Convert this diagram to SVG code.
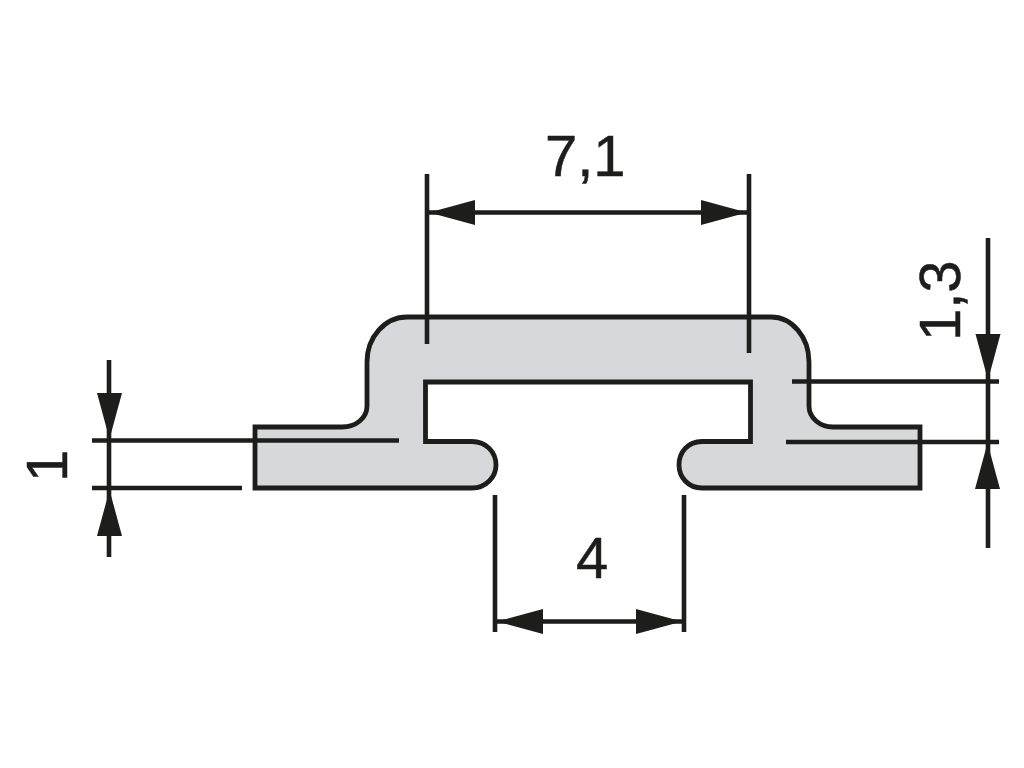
<svg xmlns="http://www.w3.org/2000/svg" xmlns:xlink="http://www.w3.org/1999/xlink" width="1024" height="768" viewBox="0 0 1024 768">
<style>
.profile{fill:#d7d8da;stroke:#1d1d1b;stroke-width:4.800;stroke-linejoin:miter}
.dim{stroke:#1d1d1b;stroke-width:4.600;fill:none}
.head{fill:#1d1d1b;stroke:none}
.label{font-family:"Liberation Sans",Arial,sans-serif;font-size:58px;fill:#1d1d1b;stroke:#1d1d1b;stroke-width:0.500}
</style>
<defs><polygon id="head" class="head" points="0,0 -46,-12.500 -46,12.500"/></defs>
<rect width="1024" height="768" fill="#ffffff"/>
<g id="profile">
<path class="profile" d="M255 427H342C356 427 367 418 367 406V362C367 337 385 317 407 317H771C792 317 809 337 809 362V406C809 418 820 427 833 427H920V488H702C688 488 679 477 679 465C679 452 688 441.500 702 441.500H750.500V382H425.500V441.500H472C486 441.500 496 452 496 465C496 477 486 488 472 488H255Z"/>
</g>
<g id="connectors">
<path class="dim" d="M427 174V344M749 174V353M427 212.500H749"/>
<path class="dim" d="M495 495V632M684 495V632M495 621.500H684"/>
<path class="dim" d="M92 440.500H399M92 488H242M109 360V557"/>
<path class="dim" d="M792 381.500H999M786 442H999M988 238V548"/>
<use xlink:href="#head" href="#head" transform="translate(429 212.500) rotate(180)"/>
<use xlink:href="#head" href="#head" transform="translate(747 212.500)"/>
<use xlink:href="#head" href="#head" transform="translate(497 621.500) rotate(180)"/>
<use xlink:href="#head" href="#head" transform="translate(682 621.500)"/>
<use xlink:href="#head" href="#head" transform="translate(109.500 439) rotate(90)"/>
<use xlink:href="#head" href="#head" transform="translate(109.500 490) rotate(-90)"/>
<use xlink:href="#head" href="#head" transform="translate(988 380) rotate(90)"/>
<use xlink:href="#head" href="#head" transform="translate(987.500 443) rotate(-90)"/>
</g>
<g id="labels">
<text id="label-7-1" class="label" x="545" y="176">7,1</text>
<text id="label-4" class="label" x="576" y="578">4</text>
<text id="label-1" class="label" transform="translate(67 482) rotate(-90)">1</text>
<text id="label-1-3" class="label" transform="translate(960 341) rotate(-90)">1,3</text>
</g>
</svg>
